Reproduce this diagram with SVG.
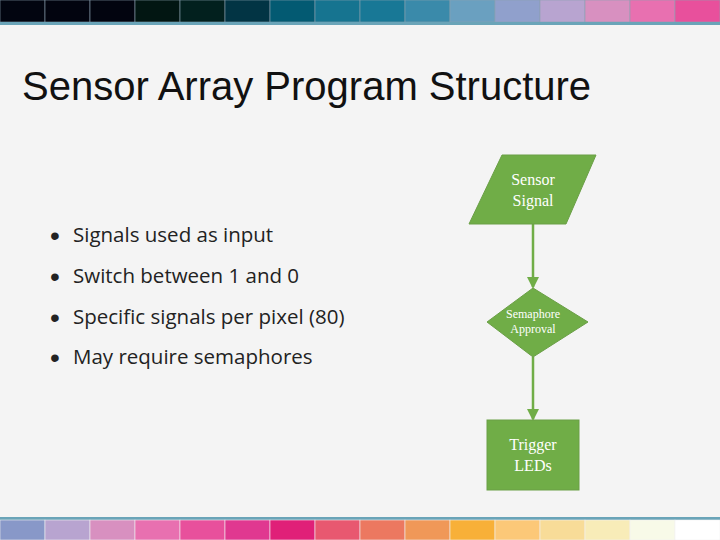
<svg xmlns="http://www.w3.org/2000/svg" width="720" height="540" viewBox="0 0 720 540">
<style>
.t{font-family:"Liberation Sans",Arial,sans-serif}
.b{font-family:"Open Sans","Liberation Sans",sans-serif;font-size:20.5px;fill:#222}
.d{font-family:"Liberation Sans",sans-serif;font-size:28px;fill:#222}
.n{fill:#70ad47;stroke:#6a9f46;stroke-width:1}
.l{font-family:"Liberation Serif","Times New Roman",serif;fill:#fff;text-anchor:middle}
.c{stroke:#70ad47;stroke-width:2.5;fill:none}
</style>
<defs><marker id="a" markerWidth="12" markerHeight="12" refX="10" refY="6" orient="auto" markerUnits="userSpaceOnUse" viewBox="0 0 12 12"><path d="M0,0L12,6L0,12z" fill="#70ad47"/></marker></defs>
<rect width="720" height="540" fill="#f4f4f4"/>
<g stroke="#8aa0b0" stroke-width="0.6">
<rect x="0" y="0" width="45" height="22" fill="#020510"/><rect x="45" y="0" width="45" height="22" fill="#02040f"/><rect x="90" y="0" width="45" height="22" fill="#02040f"/><rect x="135" y="0" width="45" height="22" fill="#021612"/><rect x="180" y="0" width="45" height="22" fill="#02201e"/><rect x="225" y="0" width="45" height="22" fill="#023444"/><rect x="270" y="0" width="45" height="22" fill="#035a72"/><rect x="315" y="0" width="45" height="22" fill="#167490"/><rect x="360" y="0" width="45" height="22" fill="#187896"/><rect x="405" y="0" width="45" height="22" fill="#3a8aaa"/><rect x="450" y="0" width="45" height="22" fill="#6aa0c0"/><rect x="495" y="0" width="45" height="22" fill="#90a0cc"/><rect x="540" y="0" width="45" height="22" fill="#b8a4d0"/><rect x="585" y="0" width="45" height="22" fill="#d890c0"/><rect x="630" y="0" width="45" height="22" fill="#e870b0"/><rect x="675" y="0" width="45" height="22" fill="#e8509c"/>
</g>
<rect x="0" y="22" width="720" height="3" fill="#6aa4b8"/>
<rect x="0" y="517" width="720" height="3" fill="#6aa4b8"/>
<g stroke="#f0f0f0" stroke-width="0.6">
<rect x="0" y="520" width="45" height="20" fill="#8898c8"/><rect x="45" y="520" width="45" height="20" fill="#b8a4d0"/><rect x="90" y="520" width="45" height="20" fill="#d890c0"/><rect x="135" y="520" width="45" height="20" fill="#e870b0"/><rect x="180" y="520" width="45" height="20" fill="#e8509c"/><rect x="225" y="520" width="45" height="20" fill="#e03890"/><rect x="270" y="520" width="45" height="20" fill="#e02078"/><rect x="315" y="520" width="45" height="20" fill="#e85870"/><rect x="360" y="520" width="45" height="20" fill="#ec7860"/><rect x="405" y="520" width="45" height="20" fill="#f09858"/><rect x="450" y="520" width="45" height="20" fill="#f8b038"/><rect x="495" y="520" width="45" height="20" fill="#fcc878"/><rect x="540" y="520" width="45" height="20" fill="#f8dc98"/><rect x="585" y="520" width="45" height="20" fill="#f8ecb8"/><rect x="630" y="520" width="45" height="20" fill="#f8fae8"/><rect x="675" y="520" width="45" height="20" fill="#ffffff"/>
</g>
<text class="t" x="22" y="100" font-size="40" fill="#111">Sensor Array Program Structure</text>
<g class="d">
<text x="50" y="245">•</text><text x="50" y="286">•</text><text x="50" y="327">•</text><text x="50" y="367">•</text>
</g>
<g class="b">
<text x="73" y="242">Signals used as input</text>
<text x="73" y="283">Switch between 1 and 0</text>
<text x="73" y="324">Specific signals per pixel (80)</text>
<text x="73" y="364">May require semaphores</text>
</g>
<g id="connectors">
<path class="c" d="M533,224V287" marker-end="url(#a)"/>
<path class="c" d="M533,357V419" marker-end="url(#a)"/>
</g>
<g id="sensor"><polygon class="n" points="502,155 596,155 566,224 469,224"/><text class="l" x="533" y="185" font-size="16">Sensor</text><text class="l" x="533" y="206" font-size="16">Signal</text></g>
<g id="semaphore"><polygon class="n" points="533,288 588,322 533,357 487,322"/><text class="l" x="533" y="318" font-size="12">Semaphore</text><text class="l" x="533" y="333" font-size="12">Approval</text></g>
<g id="trigger"><rect class="n" x="487" y="420" width="92" height="70"/><text class="l" x="533" y="450" font-size="16">Trigger</text><text class="l" x="533" y="471" font-size="16">LEDs</text></g>
</svg>
